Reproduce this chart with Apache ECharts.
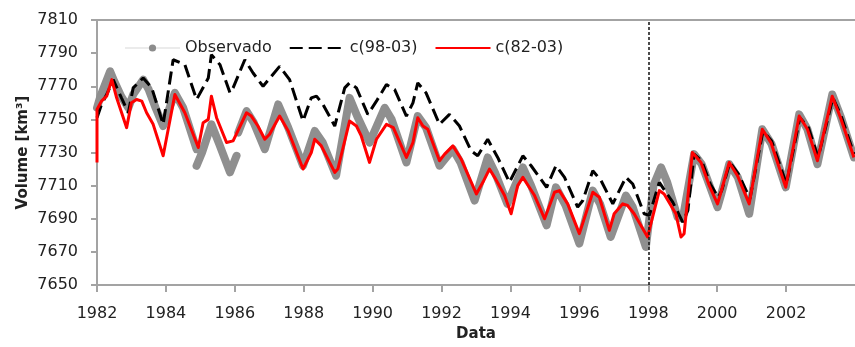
<!DOCTYPE html>
<html>
<head>
<meta charset="utf-8">
<script src="https://cdn.jsdelivr.net/npm/echarts@6/dist/echarts.min.js"></script>
<style>
  html, body { margin: 0; padding: 0; background: #fff; }
  #chart { width: 855px; height: 347px; }
</style>
</head>
<body>
<div id="chart"></div>
<script>
// observado: three pieces (the 1985 piece sits below the rest)
const obsYearsA = [1982.00, 1982.10, 1982.25, 1982.38, 1982.50, 1982.70, 1982.91, 1983.05, 1983.34, 1983.50, 1983.70, 1983.92, 1984.26, 1984.50, 1984.89]
const obsValsA  = [7757, 7764, 7772, 7779, 7773, 7764, 7757, 7765, 7774, 7768, 7757, 7746, 7766, 7757, 7732]
const obsYearsB = [1984.89, 1985.05, 1985.32, 1985.55, 1985.86, 1986.05]
const obsValsB  = [7722, 7730, 7747, 7735, 7718, 7728]
const obsYearsC = [1986.10, 1986.34, 1986.55, 1986.87, 1987.26, 1987.55, 1987.98, 1988.32, 1988.55, 1988.94,
  1989.33, 1989.55, 1989.91, 1990.35, 1990.55, 1990.98, 1991.31, 1991.55, 1991.94, 1992.33,
  1992.55, 1992.96, 1993.34, 1993.55, 1993.91, 1994.36, 1994.60, 1995.05, 1995.32, 1995.60,
  1996.00, 1996.39, 1996.60, 1996.91, 1997.35, 1997.55, 1997.93, 1998.15, 1998.37, 1998.55,
  1998.85, 1999.00, 1999.33, 1999.55, 1999.80, 2000.01, 2000.12, 2000.35, 2000.60, 2000.93,
  2001.31, 2001.58, 2001.99, 2002.38, 2002.62, 2002.91, 2003.34, 2003.58, 2003.97]
const obsValsC  = [7742, 7755, 7748, 7732, 7759, 7745, 7722, 7743, 7736, 7716,
  7763, 7752, 7736, 7757, 7750, 7724, 7752, 7745, 7722, 7732,
  7724, 7701, 7727, 7718, 7699, 7721, 7710, 7686, 7709, 7698,
  7675, 7707, 7699, 7679, 7704, 7697, 7673, 7710, 7721, 7712,
  7691, 7690, 7729, 7723, 7709, 7697, 7705, 7723, 7715, 7693,
  7744, 7735, 7709, 7753, 7744, 7723, 7765, 7752, 7727]

// c(98-03) - dashed black
const c98Years = [1982.00, 1982.13, 1982.28, 1982.47, 1982.71, 1982.91, 1983.05, 1983.34, 1983.59, 1983.92,
  1984.21, 1984.55, 1984.89, 1985.23, 1985.32, 1985.57, 1985.86, 1985.95, 1986.29, 1986.53,
  1986.82, 1987.30, 1987.59, 1987.98, 1988.22, 1988.37, 1988.56, 1988.90, 1989.19, 1989.33,
  1989.53, 1989.86, 1990.11, 1990.40, 1990.64, 1990.98, 1991.17, 1991.31, 1991.55, 1991.94,
  1992.23, 1992.52, 1992.86, 1993.05, 1993.34, 1993.63, 1993.97, 1994.36, 1994.60, 1995.05,
  1995.32, 1995.57, 1995.95, 1996.10, 1996.39, 1996.63, 1996.97, 1997.35, 1997.55, 1997.88,
  1998.03, 1998.32, 1998.51, 1998.71, 1999.00, 1999.15, 1999.33, 1999.55, 1999.80, 2000.03,
  2000.13, 2000.37, 2000.62, 2000.95, 2001.33, 2001.58, 2002.01, 2002.40, 2002.65, 2002.93,
  2003.36, 2003.60, 2003.97]
const c98Vals = [7751, 7759, 7765, 7774, 7763, 7754, 7769, 7775, 7769, 7747,
  7786, 7783, 7762, 7775, 7789, 7783, 7766, 7769, 7786, 7778,
  7770, 7782, 7774, 7749, 7763, 7764, 7759, 7746, 7769, 7772,
  7769, 7753, 7761, 7771, 7768, 7752, 7760, 7772, 7766, 7747,
  7753, 7746, 7731, 7728, 7738, 7727, 7712, 7728, 7722, 7709,
  7722, 7715, 7697, 7701, 7719, 7713, 7699, 7715, 7711, 7693,
  7692, 7712, 7706, 7700, 7688, 7695, 7729, 7725, 7711, 7703,
  7707, 7724, 7717, 7702, 7743, 7737, 7711, 7751, 7745, 7727,
  7763, 7752, 7729]

// c(82-03) - red
const c82Years = [1982.00, 1982.00, 1982.13, 1982.28, 1982.43, 1982.57, 1982.86, 1983.00, 1983.15, 1983.30,
  1983.44, 1983.63, 1983.92, 1984.26, 1984.55, 1984.94, 1985.08, 1985.23, 1985.32, 1985.47,
  1985.76, 1985.95, 1986.34, 1986.48, 1986.67, 1986.87, 1987.01, 1987.30, 1987.55, 1987.98,
  1988.22, 1988.32, 1988.51, 1988.90, 1988.99, 1989.33, 1989.53, 1989.67, 1989.91, 1990.11,
  1990.40, 1990.60, 1990.98, 1991.17, 1991.31, 1991.46, 1991.60, 1991.94, 1992.09, 1992.33,
  1992.57, 1993.01, 1993.20, 1993.39, 1993.54, 1993.83, 1994.02, 1994.21, 1994.36, 1994.70,
  1994.99, 1995.28, 1995.42, 1995.66, 1996.00, 1996.39, 1996.58, 1996.87, 1997.01, 1997.26,
  1997.40, 1997.59, 1997.98, 1998.32, 1998.46, 1998.80, 1998.95, 1999.04, 1999.28, 1999.53,
  1999.77, 2000.01, 2000.11, 2000.35, 2000.59, 2000.93, 2001.31, 2001.56, 2001.99, 2002.38,
  2002.62, 2002.91, 2003.34, 2003.58, 2003.97]
const c82Vals = [7724, 7756, 7761, 7764, 7774, 7763, 7745, 7760, 7762, 7761,
  7754, 7747, 7728, 7765, 7754, 7733, 7748, 7750, 7764, 7751,
  7736, 7737, 7754, 7752, 7746, 7738, 7741, 7752, 7743, 7720,
  7730, 7738, 7734, 7718, 7720, 7749, 7746, 7740, 7724, 7738,
  7747, 7745, 7727, 7736, 7751, 7746, 7744, 7725, 7729, 7734,
  7726, 7705, 7712, 7720, 7715, 7704, 7693, 7710, 7715, 7704,
  7690, 7706, 7707, 7699, 7681, 7706, 7703, 7683, 7693, 7699,
  7698, 7693, 7679, 7707, 7705, 7693, 7679, 7681, 7730, 7724,
  7710, 7699, 7706, 7724, 7716, 7699, 7744, 7736, 7709, 7752,
  7744, 7725, 7764, 7751, 7727]

const splitYear = 1998

const zip = (xs, ys) => xs.map((x, i) => [x, ys[i]])
const GAP = ['-', '-']

const obsData = [...zip(obsYearsA, obsValsA), GAP, ...zip(obsYearsB, obsValsB), GAP, ...zip(obsYearsC, obsValsC)]

const FONT = 'DejaVu Sans'
const AXIS_GREY = '#a3a3a3'
const TEXT = '#222'
const plain = v => String(v)

const chart = echarts.init(document.getElementById('chart'), null, { renderer: 'canvas' })

chart.setOption({
  animation: false,
  backgroundColor: '#fff',
  grid: { left: 97, right: 0, top: 20, bottom: 54 },
  legend: {
    left: 119,
    top: 35,
    itemWidth: 55,
    itemHeight: 9,
    itemGap: 17,
    textStyle: { fontFamily: FONT, fontSize: 16, color: TEXT },
    data: [
      'Observado',
      { name: 'c(98-03)', itemStyle: { color: 'rgba(0,0,0,0)', borderWidth: 0 } },
      { name: 'c(82-03)', itemStyle: { color: 'rgba(0,0,0,0)', borderWidth: 0 } }
    ]
  },
  xAxis: [{
    type: 'value',
    min: 1982,
    max: 2004,
    interval: 2,
    name: 'Data',
    nameLocation: 'middle',
    nameGap: 42,
    nameTextStyle: { fontFamily: FONT, fontSize: 15, fontWeight: 'bold', color: TEXT },
    axisLine: { lineStyle: { color: AXIS_GREY, width: 2 } },
    axisTick: { show: true, inside: false, length: 7, lineStyle: { color: AXIS_GREY, width: 2 } },
    axisLabel: { fontFamily: FONT, fontSize: 16, color: TEXT, margin: 21, showMaxLabel: false, formatter: plain },
    splitLine: { show: false }
  }, {
    type: 'value',
    position: 'top',
    min: 1982,
    max: 2004,
    axisLine: { show: true, onZero: false, lineStyle: { color: AXIS_GREY, width: 2 } },
    axisTick: { show: false },
    axisLabel: { show: false },
    splitLine: { show: false }
  }],
  yAxis: {
    type: 'value',
    min: 7650,
    max: 7810,
    interval: 20,
    name: 'Volume [km³]',
    nameLocation: 'middle',
    nameRotate: 90,
    nameGap: 66,
    nameMoveOverlap: false,
    nameTextStyle: { fontFamily: FONT, fontSize: 15, fontWeight: 'bold', color: TEXT },
    axisLine: { show: true, lineStyle: { color: AXIS_GREY, width: 2 } },
    axisTick: { show: true, length: 6, lineStyle: { color: AXIS_GREY, width: 2 } },
    axisLabel: { fontFamily: FONT, fontSize: 16, color: TEXT, margin: 19, formatter: plain },
    splitLine: { show: false }
  },
  series: [
    {
      // the grey band itself, kept out of the legend
      name: 'obs',
      type: 'line',
      data: obsData,
      symbol: 'none',
      connectNulls: false,
      lineStyle: { color: '#8f8f8f', width: 8, cap: 'round', join: 'round' }
    },
    {
      // legend entry only: light line with a grey dot
      name: 'Observado',
      type: 'line',
      data: [],
      symbol: 'circle',
      itemStyle: { color: '#8c8c8c' },
      lineStyle: { color: '#ebebeb', width: 3 }
    },
    {
      name: 'c(98-03)',
      type: 'line',
      data: zip(c98Years, c98Vals),
      symbol: 'none',
      itemStyle: { color: '#000' },
      lineStyle: { color: '#000', width: 3, type: [13, 6] }
    },
    {
      name: 'c(82-03)',
      type: 'line',
      data: zip(c82Years, c82Vals),
      symbol: 'none',
      itemStyle: { color: '#ff0000' },
      lineStyle: { color: '#ff0000', width: 3, join: 'round' },
      markLine: {
        silent: true,
        symbol: 'none',
        label: { show: false },
        lineStyle: { color: '#111', width: 1.5, type: [3, 2] },
        data: [{ xAxis: splitYear }]
      }
    }
  ]
})
</script>
</body>
</html>
